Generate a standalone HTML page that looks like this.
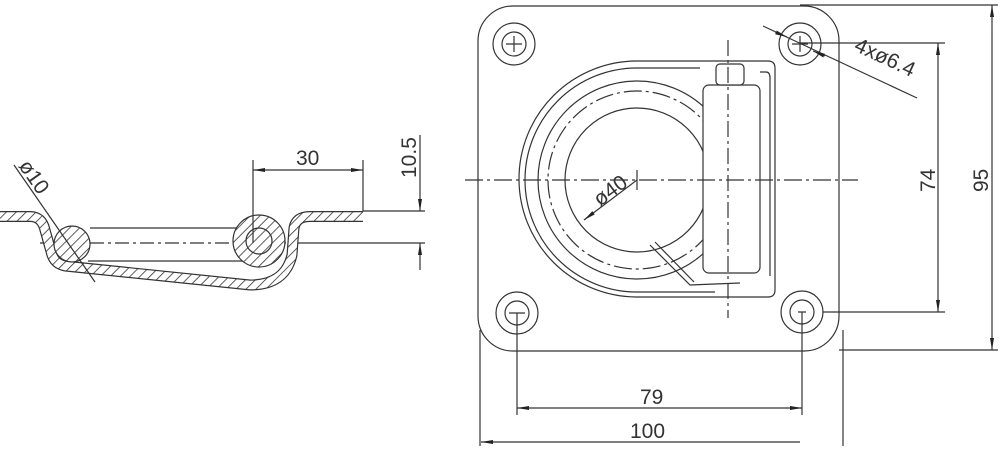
<!DOCTYPE html>
<html><head><meta charset="utf-8"><style>
html,body{margin:0;padding:0;background:#fff;}
svg{display:block;}
text{font-family:"Liberation Sans",sans-serif;fill:#333;}
</style></head><body>
<svg width="1000" height="449" viewBox="0 0 1000 449" xmlns="http://www.w3.org/2000/svg">
<defs>
<pattern id="h" width="7" height="7" patternUnits="userSpaceOnUse" patternTransform="rotate(45)">
<rect width="7" height="7" fill="#fff"/><line x1="0" y1="0" x2="0" y2="7" stroke="#333" stroke-width="1.6"/>
</pattern>
<marker id="a" markerWidth="12" markerHeight="6" refX="12" refY="3" orient="auto" markerUnits="userSpaceOnUse">
<path d="M0,1 L12,3 L0,5 z" fill="#222"/></marker>
<marker id="b" markerWidth="12" markerHeight="6" refX="0" refY="3" orient="auto" markerUnits="userSpaceOnUse">
<path d="M12,1 L0,3 L12,5 z" fill="#222"/></marker>
</defs>
<g fill="none" stroke="#333" stroke-width="1.2">
<!-- LEFT SECTION -->
<line x1="90" y1="228" x2="255" y2="228"/>
<line x1="88" y1="261" x2="255" y2="261"/>
<line x1="40" y1="243" x2="300" y2="243" stroke-dasharray="14,4,3,4"/>
<line x1="300" y1="243" x2="425" y2="243"/>
<line x1="363" y1="211" x2="425" y2="211"/>
<path d="M0,216.5 L30,216.5 Q42,216.5 45,230 L52,255 Q56,266 70,266.5 L250,285 Q285,285 292,255 L294,228 Q296,216.5 310,216.5 L363,216.5" stroke="#333" stroke-width="11"/>
<path d="M0,216.5 L30,216.5 Q42,216.5 45,230 L52,255 Q56,266 70,266.5 L250,285 Q285,285 292,255 L294,228 Q296,216.5 310,216.5 L363,216.5" stroke="url(#h)" stroke-width="8.6"/>
<circle cx="72" cy="244" r="18" fill="url(#h)"/>
<circle cx="259" cy="241" r="26" fill="url(#h)"/>
<circle cx="259" cy="241" r="13" fill="url(#h)"/>
<line x1="14" y1="165" x2="95" y2="282"/>
<!-- dims -->
<line x1="253" y1="160" x2="253" y2="243"/>
<line x1="363" y1="160" x2="363" y2="211"/>
<line x1="253" y1="170" x2="363" y2="170" marker-start="url(#b)" marker-end="url(#a)"/>
<line x1="420" y1="135" x2="420" y2="211" marker-end="url(#a)"/>
<line x1="420" y1="270" x2="420" y2="243" marker-end="url(#a)"/>

<!-- RIGHT VIEW -->
<rect x="478" y="6" width="361" height="345" rx="35"/>
<circle cx="514" cy="44" r="21"/><circle cx="514" cy="44" r="12"/>
<circle cx="800" cy="44" r="21"/><circle cx="800" cy="44" r="12"/>
<circle cx="517" cy="313" r="21"/><circle cx="517" cy="313" r="12"/>
<circle cx="802" cy="312" r="21"/><circle cx="802" cy="312" r="12"/>
<path d="M506,44h16M514,36v16M792,44h16M800,36v16M509,313h16M806,312h-8"/>
<!-- recess -->
<path d="M637,61 L768,61 Q775,61 775,68 L775,290 Q775,297 768,297 L637,297 A118,118 0 0 1 637,61"/>
<path d="M700,68 L637,68 A112,112 0 0 0 637,292 L715,292"/>
<circle cx="637" cy="180" r="99"/>
<circle cx="637" cy="180" r="89" stroke-dasharray="18,4,3,4"/>
<circle cx="637" cy="180" r="72"/>
<rect x="703" y="85" width="57" height="188" rx="6" fill="#fff"/>
<rect x="716" y="64" width="28" height="21" rx="4" fill="#fff"/>
<path d="M760,72 L766,72 Q770,72 770,78 L770,276"/>
<path d="M650,245 L690,285 L740,283 M655,242 L694,282"/>
<line x1="728" y1="40" x2="728" y2="318" stroke-dasharray="16,4,3,4"/>
<line x1="465" y1="180" x2="858" y2="180" stroke-dasharray="18,4,3,4"/>
<!-- phi40 -->
<line x1="584" y1="220" x2="637" y2="180" marker-start="url(#b)"/>
<line x1="637" y1="170" x2="637" y2="190"/>
<!-- leader 4x -->
<line x1="763" y1="26" x2="917" y2="98"/>
<line x1="775" y1="32" x2="787" y2="37" marker-end="url(#a)"/>
<line x1="825" y1="56" x2="813" y2="51" marker-end="url(#a)"/>
<!-- 74 -->
<line x1="800" y1="43" x2="945" y2="43"/>
<line x1="823" y1="312" x2="945" y2="312"/>
<line x1="938" y1="60" x2="938" y2="312" marker-end="url(#a)"/>
<line x1="938" y1="60" x2="938" y2="43" marker-end="url(#a)"/>
<!-- 95 -->
<line x1="800" y1="5" x2="998" y2="5"/>
<line x1="839" y1="350" x2="998" y2="350"/>
<line x1="992" y1="30" x2="992" y2="5" marker-end="url(#a)"/>
<line x1="992" y1="30" x2="992" y2="350" marker-end="url(#a)"/>
<!-- 79 / 100 -->
<line x1="517" y1="313" x2="517" y2="415"/>
<line x1="802" y1="312" x2="802" y2="415"/>
<line x1="517" y1="408" x2="802" y2="408" marker-start="url(#b)" marker-end="url(#a)"/>
<line x1="480" y1="330" x2="480" y2="446"/>
<line x1="843" y1="330" x2="843" y2="446"/>
<line x1="481" y1="442" x2="800" y2="442" marker-start="url(#b)"/>
</g>
<g font-size="21">
<text x="296" y="165">30</text>
<text transform="translate(416,178) rotate(-90)">10.5</text>
<text transform="translate(18,166) rotate(55)">ø10</text>
<text transform="translate(600,207) rotate(-37)">ø40</text>
<text transform="translate(853,50) rotate(25)">4xø6.4</text>
<text transform="translate(935,192) rotate(-90)">74</text>
<text transform="translate(988,192) rotate(-90)">95</text>
<text x="640" y="404">79</text>
<text x="630" y="438">100</text>
</g>
</svg>
</body></html>
